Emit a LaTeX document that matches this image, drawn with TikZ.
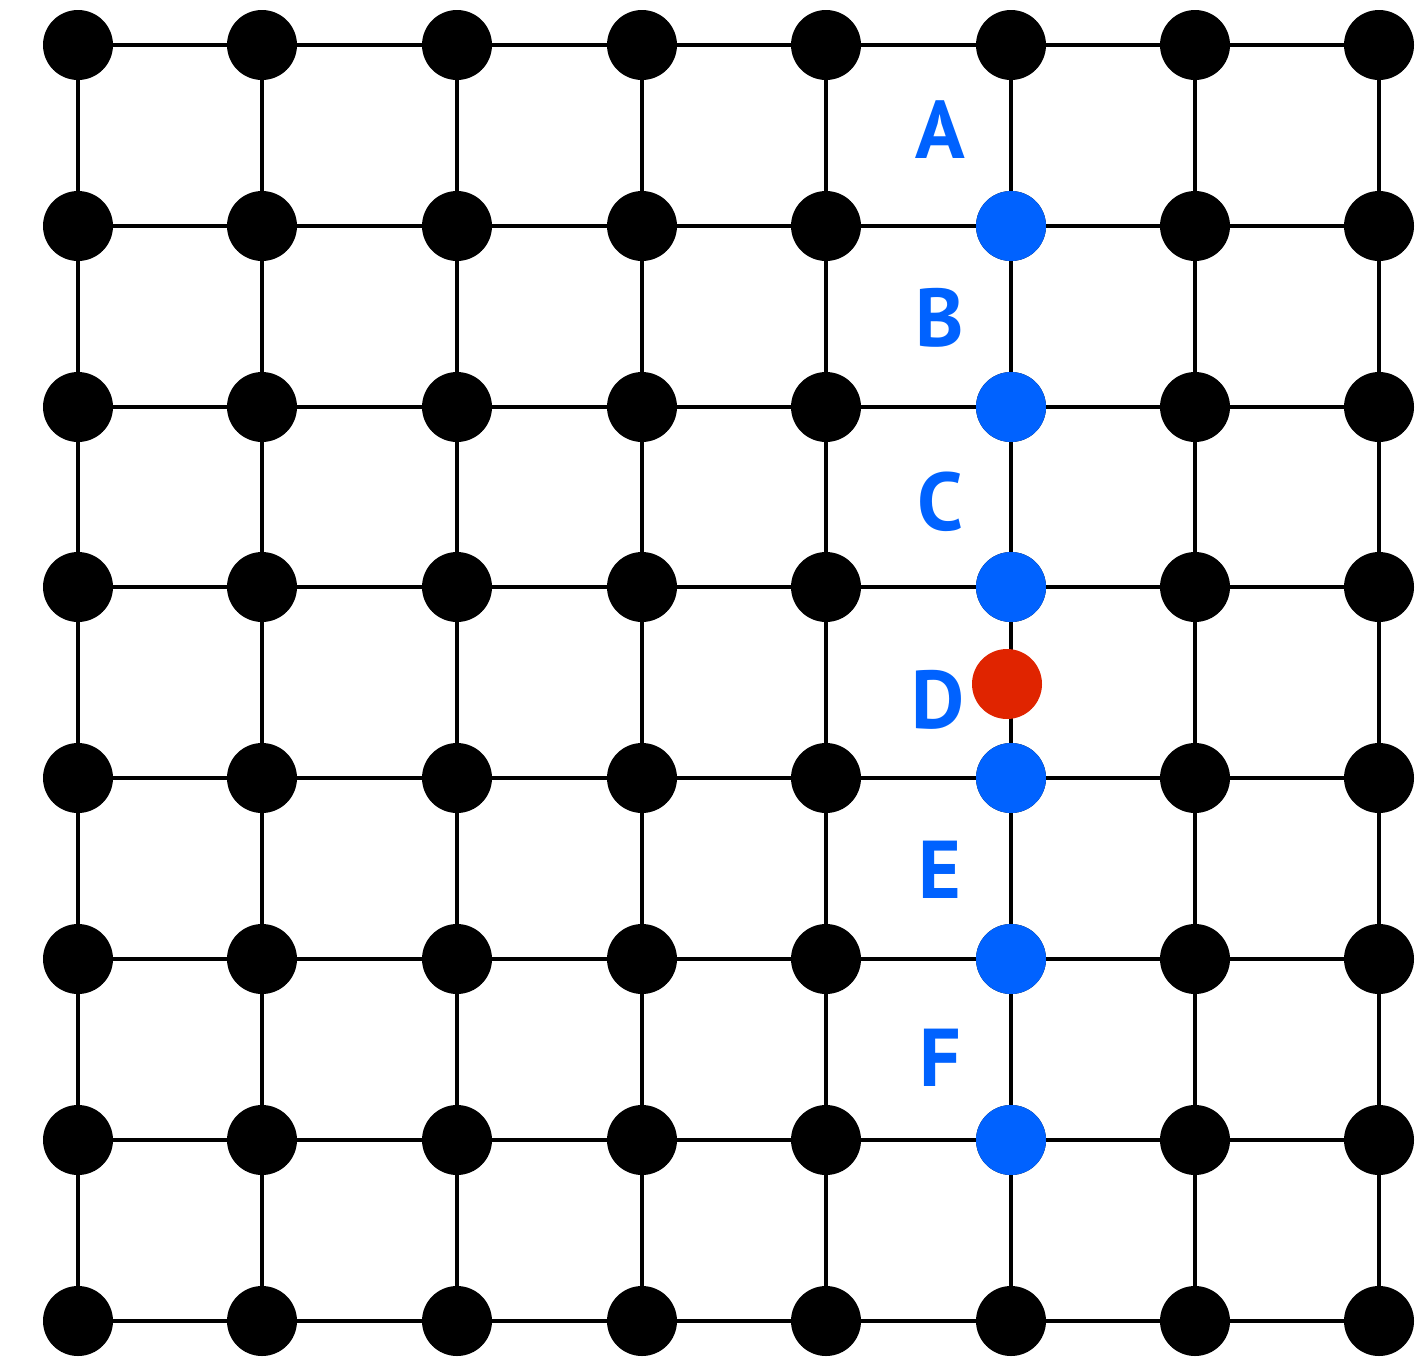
\documentclass[tikz,border=0pt]{standalone}
\usepackage{fontspec}
\setmainfont{PT Sans}
\usepackage{xcolor}
\usepackage{tikz}
\usetikzlibrary{positioning}
\definecolor{dotblue}{RGB}{0,98,255}
\definecolor{dotred}{RGB}{224,36,0}
\tikzset{
  dot/.style={
    circle,
    fill=black,
    inner sep=0pt,
    minimum size=70pt
  },
  bluedot/.style={dot, fill=dotblue},
  reddot/.style={dot, fill=dotred},
  edge/.style={line width=4.5pt, black},
  letter/.style={
    text=dotblue,
    font=\fontsize{82}{82}\selectfont\bfseries,
    inner sep=0pt
  }
}

\begin{document}
\begin{tikzpicture}[x=1pt, y=-1pt]
\useasboundingbox (0,0) rectangle (1419,1358);

% grid of dots
\foreach \c/\x in {1/78,2/262,3/457,4/642,5/826,6/1011,7/1195,8/1379}{
  \foreach \r/\y in {1/45,2/226,3/407,4/587,5/778,6/959,7/1140,8/1321}{
    \node[dot] (n-\c-\r) at (\x,\y) {};
  }
}

% blue dots on column 6
\foreach \r in {2,3,4,5,6,7}{
  \node[bluedot] at (n-6-\r) {};
}

% horizontal edges
\foreach \r in {1,...,8}{
  \foreach \c [evaluate=\c as \d using int(\c+1)] in {1,...,7}{
    \draw[edge] (n-\c-\r) -- (n-\d-\r);
  }
}

% vertical edges
\foreach \c in {1,...,8}{
  \foreach \r [evaluate=\r as \s using int(\r+1)] in {1,...,7}{
    \draw[edge] (n-\c-\r) -- (n-\c-\s);
  }
}

\node[reddot] (red) at (1007,684) {};

% labels
\node[letter] (la) at (940,130) {A};
\node[letter] (lb) at (940,318) {B};
\node[letter] (lc) at (940,502) {C};
\node[letter] (ld) at (938,700) {D};
\node[letter] (le) at (940,870) {E};
\node[letter] (lf) at (940,1058) {F};

\end{tikzpicture}
\end{document}
